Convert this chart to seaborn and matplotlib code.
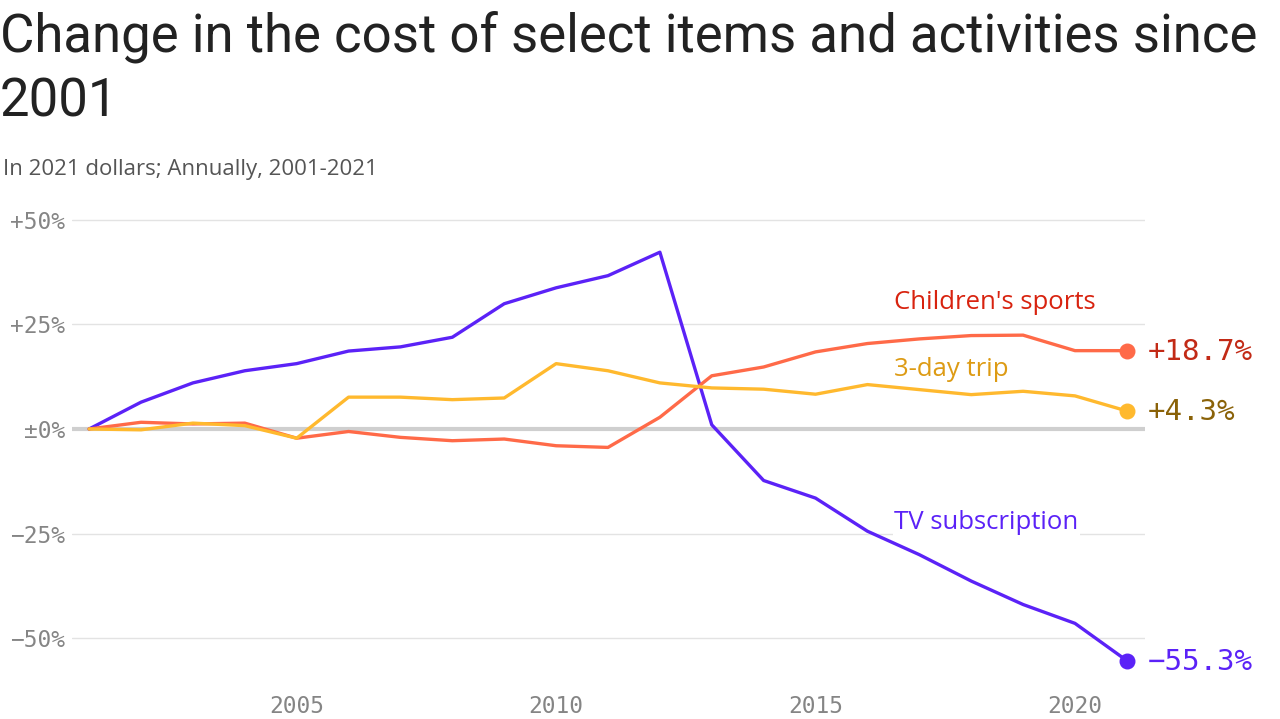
import pandas as pd
import seaborn as sns
import matplotlib.pyplot as plt

years = list(range(2001, 2022))

tv_subscription = [0, 6.4, 11.0, 13.9, 15.6, 18.6, 19.6, 21.9, 29.9, 33.7, 36.6, 42.2,
                   1.0, -12.3, -16.5, -24.4, -30.0, -36.3, -41.9, -46.4, -55.3]
childrens_sports = [0, 1.6, 1.2, 1.4, -2.2, -0.6, -2.0, -2.8, -2.4, -4.0, -4.4, 2.8,
                    12.7, 14.8, 18.4, 20.4, 21.5, 22.3, 22.4, 18.7, 18.7]
three_day_trip = [0, -0.2, 1.4, 0.8, -2.2, 7.6, 7.6, 7.0, 7.4, 15.6, 13.9, 11.0,
                  9.8, 9.5, 8.3, 10.6, 9.4, 8.2, 9.0, 7.9, 4.3]

series_names = ["TV subscription", "Children's sports", "3-day trip"]
line_colors = {"TV subscription": "#5b22f7", "Children's sports": "#ff6a48", "3-day trip": "#ffb92e"}
label_colors = {"TV subscription": "#5b22f7", "Children's sports": "#d8230f", "3-day trip": "#dd9b14"}
value_colors = {"TV subscription": "#5b22f7", "Children's sports": "#c22a16", "3-day trip": "#8a6208"}

y_ticks = [50, 25, 0, -25, -50]
y_tick_labels = ["+50%", "+25%", "±0%", "\u221225%", "\u221250%"]
x_ticks = [2005, 2010, 2015, 2020]

df = pd.DataFrame({
    "year": years * 3,
    "change": tv_subscription + childrens_sports + three_day_trip,
    "item": sum([[n] * len(years) for n in series_names], []),
})

sns.set_style("white")
plt.rcParams["font.family"] = ["Roboto", "DejaVu Sans"]

fig = plt.figure(figsize=(12.8, 7.19), dpi=100)
ax = fig.add_axes([0.05625, 0.080, 0.8383, 0.6205])

# gridlines + heavier zero line
for t in y_ticks:
    ax.axhline(t, color="#e3e3e3", lw=1, zorder=0)
ax.axhline(0, color="#cfcfcf", lw=3, zorder=0)

sns.lineplot(data=df, x="year", y="change", hue="item", palette=line_colors,
             linewidth=2.4, legend=False, ax=ax, zorder=3)

# end dots + value labels
for name, vals in zip(series_names, [tv_subscription, childrens_sports, three_day_trip]):
    ax.scatter([years[-1]], [vals[-1]], s=110, color=line_colors[name], zorder=4, clip_on=False)
    sign = "+" if vals[-1] >= 0 else "\u2212"
    ax.annotate(f"{sign}{abs(vals[-1]):.1f}%", (years[-1], vals[-1]), xytext=(15, -1),
                textcoords="offset points", va="center", ha="left", fontsize=21,
                family="DejaVu Sans Mono", color=value_colors[name], annotation_clip=False)

# line labels
lab_kw = dict(fontsize=18.5, va="center", ha="left", family=["Open Sans", "DejaVu Sans"])
ax.text(2016.52, 30.3, "Children's sports", color=label_colors["Children's sports"], **lab_kw)
ax.text(2016.52, 14.3, "3-day trip", color=label_colors["3-day trip"], **lab_kw)
ax.text(2016.52, -22.4, "TV subscription", color=label_colors["TV subscription"], zorder=5,
        bbox=dict(facecolor="white", edgecolor="none", pad=1), **lab_kw)

ax.set_xlim(2000.67, 2021.35)
ax.set_ylim(-55.5, 51)
ax.set_yticks(y_ticks)
ax.set_yticklabels(y_tick_labels)
ax.set_xticks(x_ticks)
ax.set_xlabel("")
ax.set_ylabel("")
ax.tick_params(axis="y", length=0, pad=5, labelsize=16.5, labelcolor="#858585")
ax.tick_params(axis="x", length=19, width=1, color="#dcdcdc", direction="out",
               pad=5, labelsize=16.5, labelcolor="#858585")
for lab in ax.get_xticklabels() + ax.get_yticklabels():
    lab.set_family("DejaVu Sans Mono")
for s in ax.spines.values():
    s.set_visible(False)

fig.text(0.0, 0.985, "Change in the cost of select items and activities since\n2001",
         fontsize=38, color="#222222", va="top", ha="left", linespacing=1.32)
fig.text(0.002, 0.764, "In 2021 dollars; Annually, 2001-2021",
         fontsize=16, color="#555555", va="center", ha="left", family=["Open Sans", "DejaVu Sans"])

fig.savefig("out.png", dpi=100)
